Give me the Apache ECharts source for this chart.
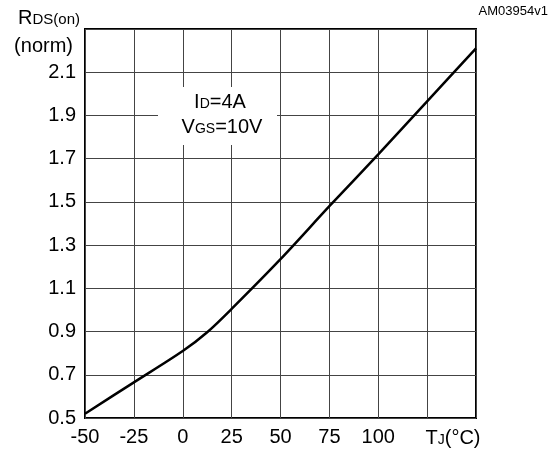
<!DOCTYPE html>
<html>
<head>
<meta charset="utf-8">
<script src="https://cdn.jsdelivr.net/npm/echarts@6/dist/echarts.min.js"></script>
<style>
  html, body { margin: 0; padding: 0; background: #fff; }
  #chart { width: 551px; height: 450px; }
</style>
</head>
<body>
<div id="chart"></div>
<script>
// junction temperature (°C) and normalized RDS(on)
const tempC = [-50, -25, 0, 12.5, 25, 50, 75, 100, 125, 150];
const rdsNorm = [0.52, 0.665, 0.81, 0.897, 1.005, 1.235, 1.48, 1.72, 1.965, 2.21];

const xTicks = [-50, -25, 0, 25, 50, 75, 100];
const yTicks = [0.5, 0.7, 0.9, 1.1, 1.3, 1.5, 1.7, 1.9, 2.1];

const font = 'Liberation Sans, Arial, sans-serif';

// big letter + small "subscript" sitting on the same baseline
const subRich = (big, small) => ({
  a: { fontSize: big, fontFamily: font, lineHeight: big, verticalAlign: 'bottom', color: '#000' },
  b: { fontSize: small, fontFamily: font, lineHeight: small, verticalAlign: 'bottom', color: '#000', padding: [0, 0, 1, 0] }
});

const chart = echarts.init(document.getElementById('chart'));

chart.setOption({
  animation: false,
  textStyle: { fontFamily: font },
  grid: {
    left: 85, right: 75, top: 29, bottom: 32,
    show: true, borderColor: '#000', borderWidth: 2, backgroundColor: 'transparent'
  },
  xAxis: {
    type: 'value',
    min: -50, max: 150, interval: 25,
    axisLine: { show: false },
    axisTick: { show: false },
    splitLine: { lineStyle: { color: '#444', width: 1 } },
    axisLabel: {
      color: '#000', fontSize: 20, margin: 9,
      formatter: v => xTicks.includes(v) ? String(v) : ''
    }
  },
  yAxis: {
    type: 'value',
    min: 0.5, max: 2.3, interval: 0.2,
    axisLine: { show: false },
    axisTick: { show: false },
    splitLine: { lineStyle: { color: '#444', width: 1 } },
    axisLabel: {
      color: '#000', fontSize: 20, margin: 9,
      formatter: v => {
        const r = Math.round(v * 10) / 10;
        return yTicks.includes(r) ? r.toFixed(1) : '';
      }
    }
  },
  graphic: [
    { type: 'rect', shape: { x: 158, y: 87, width: 119, height: 58 }, style: { fill: '#fff' }, z: 10 },
    {
      type: 'text', x: 220, y: 102, z: 11,
      style: { text: '{a|I}{b|D}{a|=4A}', align: 'center', verticalAlign: 'middle', rich: subRich(20, 14) }
    },
    {
      type: 'text', x: 222, y: 127, z: 11,
      style: { text: '{a|V}{b|GS}{a|=10V}', align: 'center', verticalAlign: 'middle', rich: subRich(20, 14) }
    },
    {
      type: 'text', x: 80, y: 18,
      style: { text: '{a|R}{b|DS(on)}', align: 'right', verticalAlign: 'middle', rich: subRich(20, 15) }
    },
    { type: 'text', x: 73, y: 46, style: { text: '(norm)', font: '20px ' + font, align: 'right', verticalAlign: 'middle' } },
    {
      type: 'text', x: 453, y: 438,
      style: { text: '{a|T}{b|J}{a|(°C)}', align: 'center', verticalAlign: 'middle', rich: subRich(20, 14) }
    },
    { type: 'text', x: 548, y: 11, style: { text: 'AM03954v1', font: '13px ' + font, align: 'right', verticalAlign: 'middle' } }
  ],
  series: [
    {
      type: 'line',
      data: tempC.map((t, i) => [t, rdsNorm[i]]),
      showSymbol: false,
      smooth: 0.3,
      lineStyle: { color: '#000', width: 2.5 },
      z: 5
    }
  ]
});
</script>
</body>
</html>
